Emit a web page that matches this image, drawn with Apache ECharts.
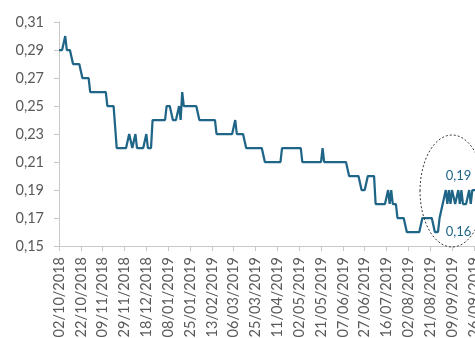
<!DOCTYPE html>
<html>
<head>
<meta charset="utf-8">
<script src="https://cdn.jsdelivr.net/npm/echarts@6/dist/echarts.min.js"></script>
<style>
  html, body { margin: 0; padding: 0; background: #ffffff; }
  #chart { width: 475px; height: 338px; }
</style>
</head>
<body>
<div id="chart"></div>
<script>
// Date labels shown on the x axis, one every 14 sessions
const tickDates = [
  '02/10/2018', '22/10/2018', '09/11/2018', '29/11/2018', '18/12/2018',
  '08/01/2019', '25/01/2019', '13/02/2019', '06/03/2019', '25/03/2019',
  '11/04/2019', '02/05/2019', '21/05/2019', '07/06/2019', '27/06/2019',
  '16/07/2019', '02/08/2019', '21/08/2019', '09/09/2019', '26/09/2019'
];
const sessionsPerTick = 14;

// Daily values, one per session
const values = [
  0.29,0.29,0.29,0.29,0.30,0.29,0.29,0.29,0.29,0.28,0.28,0.28,0.28,0.28,0.28,0.27,0.27,0.27,0.27,0.27,
  0.26,0.26,0.26,0.26,0.26,0.26,0.26,0.26,0.26,0.26,0.26,0.25,0.25,0.25,0.25,0.25,0.25,0.22,0.22,0.22,
  0.22,0.22,0.22,0.22,0.22,0.23,0.23,0.22,0.22,0.23,0.22,0.22,0.22,0.22,0.22,0.22,0.23,0.22,0.22,0.22,
  0.24,0.24,0.24,0.24,0.24,0.24,0.24,0.24,0.24,0.25,0.25,0.25,0.25,0.24,0.24,0.24,0.24,0.25,0.24,0.26,
  0.25,0.25,0.25,0.25,0.25,0.25,0.25,0.25,0.25,0.25,0.24,0.24,0.24,0.24,0.24,0.24,0.24,0.24,0.24,0.24,
  0.24,0.23,0.23,0.23,0.23,0.23,0.23,0.23,0.23,0.23,0.23,0.23,0.23,0.24,0.23,0.23,0.23,0.23,0.23,0.23,
  0.22,0.22,0.22,0.22,0.22,0.22,0.22,0.22,0.22,0.22,0.22,0.22,0.21,0.21,0.21,0.21,0.21,0.21,0.21,0.21,
  0.21,0.21,0.21,0.22,0.22,0.22,0.22,0.22,0.22,0.22,0.22,0.22,0.22,0.22,0.22,0.22,0.21,0.21,0.21,0.21,
  0.21,0.21,0.21,0.21,0.21,0.21,0.21,0.21,0.21,0.22,0.21,0.21,0.21,0.21,0.21,0.21,0.21,0.21,0.21,0.21,
  0.21,0.21,0.21,0.21,0.21,0.21,0.20,0.20,0.20,0.20,0.20,0.20,0.20,0.20,0.19,0.19,0.19,0.19,0.20,0.20,
  0.20,0.20,0.20,0.18,0.18,0.18,0.18,0.18,0.18,0.18,0.18,0.19,0.18,0.19,0.18,0.18,0.18,0.17,0.17,0.17,
  0.17,0.17,0.17,0.16,0.16,0.16,0.16,0.16,0.16,0.16,0.16,0.16,0.16,0.17,0.17,0.17,0.17,0.17,0.17,0.17,
  0.17,0.16,0.16,0.16,0.17,0.17,0.18,0.18,0.19,0.18,0.19,0.18,0.19,0.19,0.18,0.18,0.19,0.18,0.19,0.18,
  0.18,0.18,0.18,0.19,0.18,0.19,0.19,0.19,0.19
];

// Value axis ticks
const yTicks = [0.15, 0.17, 0.19, 0.21, 0.23, 0.25, 0.27, 0.29, 0.31];

// First session of the highlighted recent range
const recentStart = 233;

const categories = values.map((_, i) =>
  i % sessionsPerTick === 0 ? (tickDates[i / sessionsPerTick] || '') : ''
);

const fmt = v => v.toFixed(2).replace('.', ',');
const FONT = 'Lato, "Open Sans", sans-serif';
const AXIS_GREY = '#c8c8c8';
const TEXT_GREY = '#595959';
const LINE_COLOR = '#1f6587';

const chart = echarts.init(document.getElementById('chart'), null, { renderer: 'canvas' });

chart.setOption({
  animation: false,
  backgroundColor: '#ffffff',
  grid: { left: 59, right: -2, top: 22, bottom: 92, containLabel: false, outerBoundsMode: 'none' },
  xAxis: {
    type: 'category',
    data: categories,
    boundaryGap: false,
    axisLine: { show: true, lineStyle: { color: AXIS_GREY, width: 1 } },
    axisTick: { show: true, interval: sessionsPerTick - 1, length: 5, lineStyle: { color: AXIS_GREY } },
    axisLabel: {
      interval: sessionsPerTick - 1,
      rotate: 90,
      margin: 11,
      color: TEXT_GREY,
      fontFamily: FONT,
      fontSize: 14.5,
      hideOverlap: false
    },
    splitLine: { show: false }
  },
  yAxis: {
    type: 'value',
    min: yTicks[0],
    max: yTicks[yTicks.length - 1],
    axisLine: { show: true, lineStyle: { color: AXIS_GREY, width: 1 } },
    axisTick: { show: true, length: 5, customValues: yTicks, lineStyle: { color: AXIS_GREY } },
    axisLabel: {
      customValues: yTicks,
      formatter: v => fmt(v),
      margin: 15,
      color: TEXT_GREY,
      fontFamily: FONT,
      fontSize: 14.5
    },
    splitLine: { show: false }
  },
  series: [{
    type: 'line',
    data: values,
    symbol: 'none',
    smooth: false,
    lineStyle: { color: LINE_COLOR, width: 2.25 },
    clip: false
  }]
});

// Highest and lowest values of the recent range, noted inside the dashed ellipse
const recent = values.slice(recentStart);
const recentHigh = Math.max(...recent);
const recentLow = Math.min(...recent);
const labelIdx = recentStart + recent.indexOf(recentHigh);
const hiPt = chart.convertToPixel({ gridIndex: 0 }, [labelIdx, recentHigh]);
const loPt = chart.convertToPixel({ gridIndex: 0 }, [labelIdx, recentLow]);
const centerPt = chart.convertToPixel({ gridIndex: 0 }, [labelIdx + 4, (recentHigh + recentLow) / 2]);

chart.setOption({
  graphic: [
    {
      type: 'ellipse',
      shape: { cx: centerPt[0], cy: centerPt[1] - 20, rx: 32, ry: 56 },
      style: { fill: 'none', stroke: '#3a3a3a', lineWidth: 1, lineDash: [2, 2] },
      z: 10
    },
    {
      type: 'text',
      x: hiPt[0], y: hiPt[1] - 14,
      style: { text: fmt(recentHigh), fill: LINE_COLOR, font: '13px ' + FONT, textAlign: 'left', textVerticalAlign: 'middle' },
      z: 11
    },
    {
      type: 'text',
      x: loPt[0], y: loPt[1],
      style: { text: fmt(recentLow), fill: LINE_COLOR, font: '13px ' + FONT, textAlign: 'left', textVerticalAlign: 'middle' },
      z: 11
    }
  ]
});
</script>
</body>
</html>
